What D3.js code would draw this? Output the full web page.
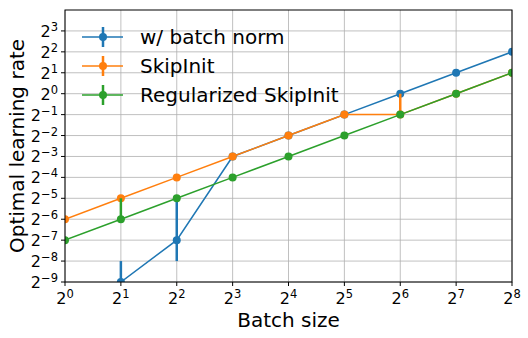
<!DOCTYPE html>
<html>
<head>
<meta charset="utf-8">
<script src="https://cdn.jsdelivr.net/npm/d3@7"></script>
<style>
  body { margin: 0; background: #fff; }
  svg { font-family: "DejaVu Sans", sans-serif; }
</style>
</head>
<body>
<div id="chart"></div>
<script>
// log2 batch size and log2 optimal learning rate
const batchExp = [0, 1, 2, 3, 4, 5, 6, 7, 8];
const bnLr      = [null, -9, -7, -3, -2, -1, 0, 1, 2];
const skipLr    = [-6, -5, -4, -3, -2, -1, -1, 0, 1];
const regLr     = [-7, -6, -5, -4, -3, -2, -1, 0, 1];
// error bars [lower, upper], null where there is none
const bnErr   = [null, [-10, -8], [-8, -5], null, null, null, null, null, null];
const skipErr = [null, null, null, null, null, null, [-1, 0], null, null];
const regErr  = [null, [-6, -5], null, null, null, null, null, null, null];
const xTicks = [0, 1, 2, 3, 4, 5, 6, 7, 8];
const yTicks = [-9, -8, -7, -6, -5, -4, -3, -2, -1, 0, 1, 2, 3];
const seriesNames = ["w/ batch norm", "SkipInit", "Regularized SkipInit"];
const colors = ["#1f77b4", "#ff7f0e", "#2ca02c"];

const width = 528, height = 338;
const margin = {top: 10, left: 65, right: 16, bottom: 56};

const svg = d3.select("#chart").append("svg")
    .attr("width", width).attr("height", height);

const x = d3.scaleLinear().domain([0, 8])
    .range([margin.left, width - margin.right]);
const y = d3.scaleLinear().domain([-9, 4])
    .range([height - margin.bottom, margin.top]);

// grid
svg.append("g").selectAll("line").data(xTicks).join("line")
    .attr("x1", d => x(d)).attr("x2", d => x(d))
    .attr("y1", y(-9)).attr("y2", y(4))
    .attr("stroke", "#b0b0b0").attr("stroke-width", 0.8);
svg.append("g").selectAll("line").data(yTicks).join("line")
    .attr("x1", x(0)).attr("x2", x(8))
    .attr("y1", d => y(d)).attr("y2", d => y(d))
    .attr("stroke", "#b0b0b0").attr("stroke-width", 0.8);

svg.append("clipPath").attr("id", "clip").append("rect")
    .attr("x", x(0)).attr("y", y(4))
    .attr("width", x(8) - x(0)).attr("height", y(-9) - y(4));

const plot = svg.append("g").attr("clip-path", "url(#clip)");

const series = [
    {vals: bnLr, err: bnErr},
    {vals: skipLr, err: skipErr},
    {vals: regLr, err: regErr}
];

const line = d3.line()
    .defined(d => d[1] !== null)
    .x(d => x(d[0])).y(d => y(d[1]));

series.forEach(function(s, i) {
    const pts = batchExp.map((b, j) => [b, s.vals[j], s.err[j]]);
    const g = plot.append("g");
    g.append("path").datum(pts)
        .attr("d", line)
        .attr("fill", "none")
        .attr("stroke", colors[i])
        .attr("stroke-width", 1.5);
    g.selectAll("line.err").data(pts.filter(d => d[2])).join("line")
        .attr("x1", d => x(d[0])).attr("x2", d => x(d[0]))
        .attr("y1", d => y(d[2][0])).attr("y2", d => y(d[2][1]))
        .attr("stroke", colors[i])
        .attr("stroke-width", 2.5);
    g.selectAll("circle").data(pts.filter(d => d[1] !== null)).join("circle")
        .attr("cx", d => x(d[0])).attr("cy", d => y(d[1]))
        .attr("r", 4)
        .attr("fill", colors[i]);
});

// axes frame
svg.append("rect")
    .attr("x", x(0)).attr("y", y(4))
    .attr("width", x(8) - x(0)).attr("height", y(-9) - y(4))
    .attr("fill", "none").attr("stroke", "#000").attr("stroke-width", 1);

// ticks
svg.append("g").selectAll("line").data(xTicks).join("line")
    .attr("x1", d => x(d)).attr("x2", d => x(d))
    .attr("y1", y(-9)).attr("y2", y(-9) + 4)
    .attr("stroke", "#000");
svg.append("g").selectAll("line").data(yTicks).join("line")
    .attr("x1", x(0) - 4).attr("x2", x(0))
    .attr("y1", d => y(d)).attr("y2", d => y(d))
    .attr("stroke", "#000");

function powLabel(sel, exp) {
    sel.append("tspan").text("2");
    sel.append("tspan")
        .attr("dy", -6)
        .attr("font-size", 11.5)
        .text(exp < 0 ? "\u2212" + (-exp) : exp);
}

svg.append("g").selectAll("text").data(xTicks).join("text")
    .attr("x", d => x(d))
    .attr("y", y(-9) + 22)
    .attr("text-anchor", "middle")
    .attr("font-size", 16)
    .each(function(d) { powLabel(d3.select(this), d); });

svg.append("g").selectAll("text").data(yTicks).join("text")
    .attr("x", x(0) - 7)
    .attr("y", d => y(d) + 6)
    .attr("text-anchor", "end")
    .attr("font-size", 16)
    .each(function(d) { powLabel(d3.select(this), d); });

// axis labels
svg.append("text")
    .attr("x", (x(0) + x(8)) / 2)
    .attr("y", height - 11)
    .attr("text-anchor", "middle")
    .attr("font-size", 20)
    .text("Batch size");

svg.append("text")
    .attr("transform", "rotate(-90)")
    .attr("x", -(y(-9) + y(4)) / 2)
    .attr("y", 24)
    .attr("text-anchor", "middle")
    .attr("font-size", 20)
    .text("Optimal learning rate");

// legend
const legend = svg.append("g");
seriesNames.forEach(function(name, i) {
    const ly = 37 + i * 29;
    const g = legend.append("g");
    g.append("line")
        .attr("x1", 82).attr("x2", 123).attr("y1", ly).attr("y2", ly)
        .attr("stroke", colors[i]).attr("stroke-width", 1.5);
    g.append("line")
        .attr("x1", 103).attr("x2", 103).attr("y1", ly - 10).attr("y2", ly + 10)
        .attr("stroke", colors[i]).attr("stroke-width", 2.5);
    g.append("circle").attr("cx", 103).attr("cy", ly).attr("r", 4).attr("fill", colors[i]);
    g.append("text")
        .attr("x", 140).attr("y", ly + 7)
        .attr("font-size", 20)
        .text(name);
});
</script>
</body>
</html>
